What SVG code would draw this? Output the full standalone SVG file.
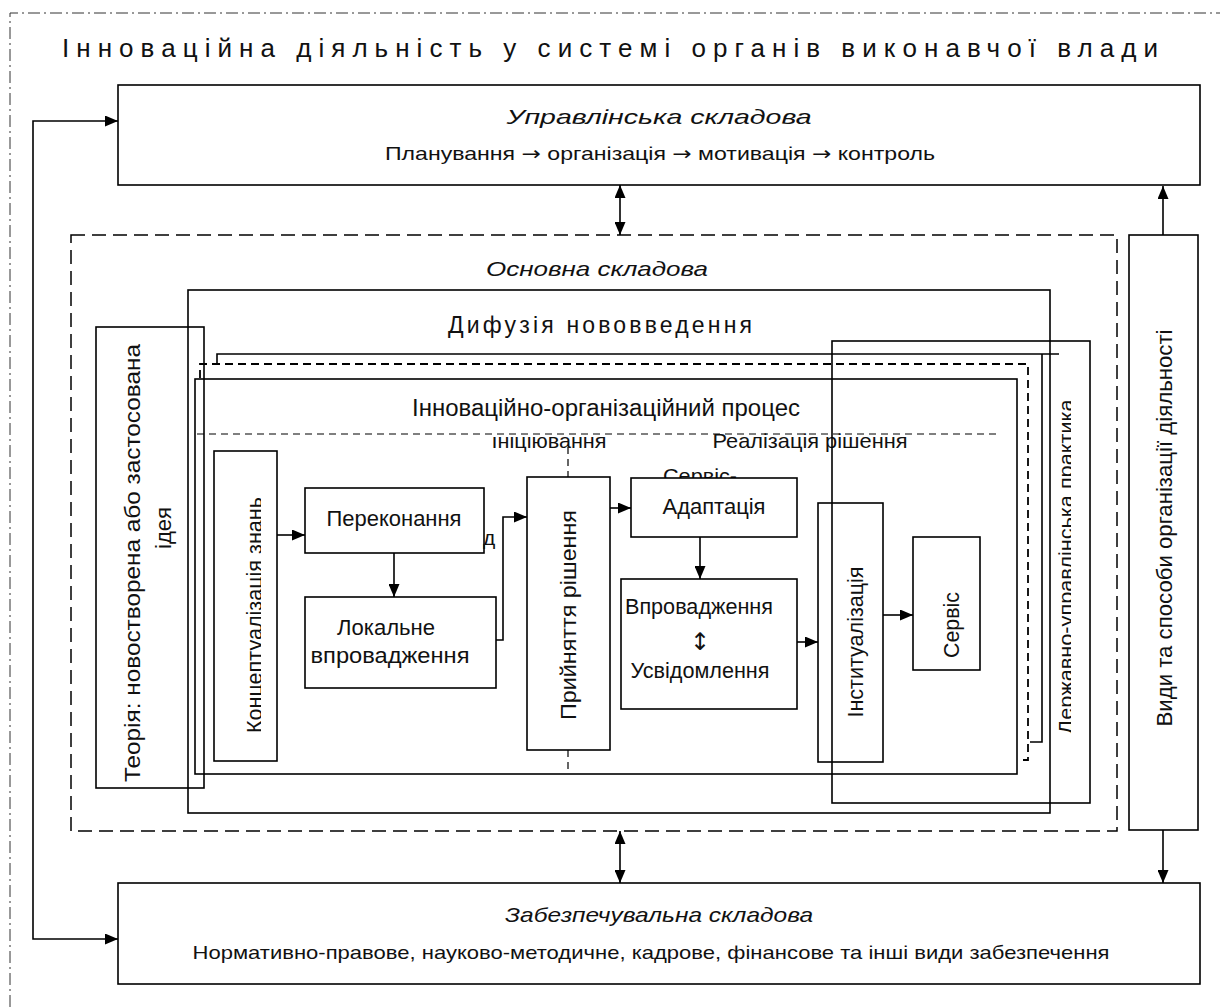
<svg xmlns="http://www.w3.org/2000/svg" width="1220" height="1007" viewBox="0 0 1220 1007">
<style>
.t{font-family:"Liberation Sans",Arial,sans-serif;fill:#111;}
.c{text-anchor:middle;}
.i{font-style:italic;}
.ar{font-family:"DejaVu Sans",sans-serif;}
.box{fill:none;stroke:#000;stroke-width:1.6;}
.ln{fill:none;stroke:#000;stroke-width:1.6;}
.dsh{fill:none;stroke:#000;stroke-width:1.8;stroke-dasharray:8 5;}
.thin{fill:none;stroke:#000;stroke-width:1.2;stroke-dasharray:7 5;}
</style>
<defs>
<marker id="ah" viewBox="0 0 13 11" refX="13" refY="5.5" markerWidth="13" markerHeight="11" markerUnits="userSpaceOnUse" orient="auto-start-reverse">
<path d="M0,0 L13,5.5 L0,11 z" fill="#000"/>
</marker>
<clipPath id="cDerzh"><rect x="0" y="0" width="1071" height="1007"/></clipPath>
<clipPath id="cKonc"><rect x="0" y="0" width="261" height="1007"/></clipPath>
<clipPath id="cInic"><rect x="0" y="437" width="1220" height="600"/></clipPath>
</defs>
<rect width="1220" height="1007" fill="#fff"/>

<!-- outer dash-dot border -->
<path d="M10,1007 V13 H1220" fill="none" stroke="#333" stroke-width="1" stroke-dasharray="12 4 2 4"/>
<text class="t" x="62" y="57" font-size="26" textLength="1096" lengthAdjust="spacing">Інноваційна діяльність у системі органів виконавчої влади</text>

<g id="upr">
<rect class="box" x="118" y="85" width="1082" height="100"/>
<text class="t c i" x="659" y="124" font-size="21" textLength="305" lengthAdjust="spacingAndGlyphs">Управлінська складова</text>
<text class="t c" x="660" y="160" font-size="19" textLength="550" lengthAdjust="spacingAndGlyphs">Планування <tspan class="ar">→</tspan> організація <tspan class="ar">→</tspan> мотивація <tspan class="ar">→</tspan> контроль</text>
</g>

<g id="osnovna">
<rect x="71" y="235" width="1046" height="596" fill="none" stroke="#000" stroke-width="1.5" stroke-dasharray="14 7"/>
<text class="t c i" x="597" y="276" font-size="21" textLength="222" lengthAdjust="spacingAndGlyphs">Основна складова</text>
</g>

<g id="vydy">
<rect class="box" x="1129" y="235" width="69" height="595"/>
<text class="t c" transform="translate(1172,528) rotate(-90)" font-size="22" textLength="397" lengthAdjust="spacingAndGlyphs">Види та способи організації діяльності</text>
</g>

<g id="zabezp">
<rect class="box" x="118" y="883" width="1082" height="101"/>
<text class="t c i" x="659" y="922" font-size="21" textLength="308" lengthAdjust="spacingAndGlyphs">Забезпечувальна складова</text>
<text class="t c" x="651" y="959" font-size="19" textLength="917" lengthAdjust="spacingAndGlyphs">Нормативно-правове, науково-методичне, кадрове, фінансове та інші види забезпечення</text>
</g>

<g id="dyfuziya">
<rect class="box" x="188" y="290" width="862" height="523"/>
<text class="t c" x="600" y="333" font-size="23" textLength="304" lengthAdjust="spacing">Дифузія нововведення</text>
</g>

<g id="teoriya">
<rect class="box" x="96" y="327" width="108" height="461"/>
<text class="t c" transform="translate(140,563) rotate(-90)" font-size="22" textLength="438" lengthAdjust="spacingAndGlyphs">Теорія: новостворена або застосована</text>
<text class="t c" transform="translate(171,528) rotate(-90)" font-size="22">ідея</text>
</g>

<g id="frames">
<path class="ln" d="M217,363 V354 H1059 M1042,354 V742 H1030"/>
<path class="dsh" d="M200,378 V364 H1028 V760 H1020"/>
</g>

<g id="proces">
<rect class="box" x="195" y="379" width="822" height="395"/>
<text class="t c" x="606" y="416" font-size="23" textLength="388" lengthAdjust="spacingAndGlyphs">Інноваційно-організаційний процес</text>
<path class="thin" d="M197,434 H1000"/>
<path class="thin" d="M568,447 V477 M568,750 V774"/>
<text class="t c" x="549" y="448" font-size="21" textLength="115" lengthAdjust="spacingAndGlyphs" clip-path="url(#cInic)">Ініціювання</text>
<text class="t c" x="810" y="448" font-size="21" textLength="195" lengthAdjust="spacingAndGlyphs">Реалізація рішення</text>
</g>

<g id="konc">
<rect class="box" x="214" y="451" width="63" height="310"/>
<g clip-path="url(#cKonc)">
<text class="t c" transform="translate(262,615) rotate(-90)" font-size="22" textLength="236" lengthAdjust="spacingAndGlyphs">Концептуалізація знань</text>
</g>
</g>

<g id="perek">
<rect class="box" x="305" y="488" width="179" height="65"/>
<text class="t c" x="394" y="526" font-size="22" textLength="135" lengthAdjust="spacingAndGlyphs">Переконання</text>
<text class="t" x="483" y="545" font-size="21">д</text>
</g>

<g id="lokal">
<rect class="box" x="305" y="597" width="191" height="91"/>
<text class="t c" x="386" y="635" font-size="22" textLength="98" lengthAdjust="spacingAndGlyphs">Локальне</text>
<text class="t c" x="390" y="663" font-size="22" textLength="159" lengthAdjust="spacingAndGlyphs">впровадження</text>
</g>

<g id="pryin">
<rect class="box" x="527" y="477" width="83" height="273"/>
<text class="t c" transform="translate(576,615) rotate(-90)" font-size="22" textLength="210" lengthAdjust="spacingAndGlyphs">Прийняття рішення</text>
</g>

<g id="adapt">
<text class="t c" x="700" y="483" font-size="21" textLength="74" lengthAdjust="spacingAndGlyphs">Сервіс-</text>
<rect x="631" y="478" width="166" height="59" fill="#fff" stroke="#000" stroke-width="1.6"/>
<text class="t c" x="714" y="514" font-size="22" textLength="103" lengthAdjust="spacingAndGlyphs">Адаптація</text>
</g>

<g id="vprov">
<rect class="box" x="621" y="579" width="176" height="130"/>
<text class="t c" x="699" y="614" font-size="22" textLength="148" lengthAdjust="spacingAndGlyphs">Впровадження</text>
<text class="t c ar" x="700" y="650" font-size="24">↕</text>
<text class="t c" x="700" y="678" font-size="22" textLength="139" lengthAdjust="spacingAndGlyphs">Усвідомлення</text>
</g>

<g id="instyt">
<rect class="box" x="818" y="503" width="65" height="259"/>
<text class="t c" transform="translate(863,642) rotate(-90)" font-size="22" textLength="151" lengthAdjust="spacingAndGlyphs">Інституалізація</text>
</g>

<g id="servis">
<rect class="box" x="913" y="537" width="67" height="133"/>
<text class="t c" transform="translate(959,625) rotate(-90)" font-size="22" textLength="66" lengthAdjust="spacingAndGlyphs">Сервіс</text>
</g>

<g id="derzh">
<rect class="box" x="832" y="341" width="258" height="462"/>
<g clip-path="url(#cDerzh)">
<text class="t c" transform="translate(1073,567) rotate(-90)" font-size="21" textLength="335" lengthAdjust="spacingAndGlyphs">Державно-управлінська практика</text>
</g>
</g>

<g id="connectors">
<path class="ln" d="M620,185 V235" marker-start="url(#ah)" marker-end="url(#ah)"/>
<path class="ln" d="M620,831 V883" marker-start="url(#ah)" marker-end="url(#ah)"/>
<path class="ln" d="M1163,235 V186" marker-end="url(#ah)"/>
<path class="ln" d="M1163,830 V883" marker-end="url(#ah)"/>
<path class="ln" d="M118,121 H33 V939 H118" marker-start="url(#ah)" marker-end="url(#ah)"/>
<path class="ln" d="M277,535 H305" marker-end="url(#ah)"/>
<path class="ln" d="M394,553 V597" marker-end="url(#ah)"/>
<path class="ln" d="M496,640 H503 V517 H527" marker-end="url(#ah)"/>
<path class="ln" d="M610,508 H631" marker-end="url(#ah)"/>
<path class="ln" d="M700,537 V579" marker-end="url(#ah)"/>
<path class="ln" d="M797,642 H818" marker-end="url(#ah)"/>
<path class="ln" d="M883,615 H913" marker-end="url(#ah)"/>
</g>
</svg>
